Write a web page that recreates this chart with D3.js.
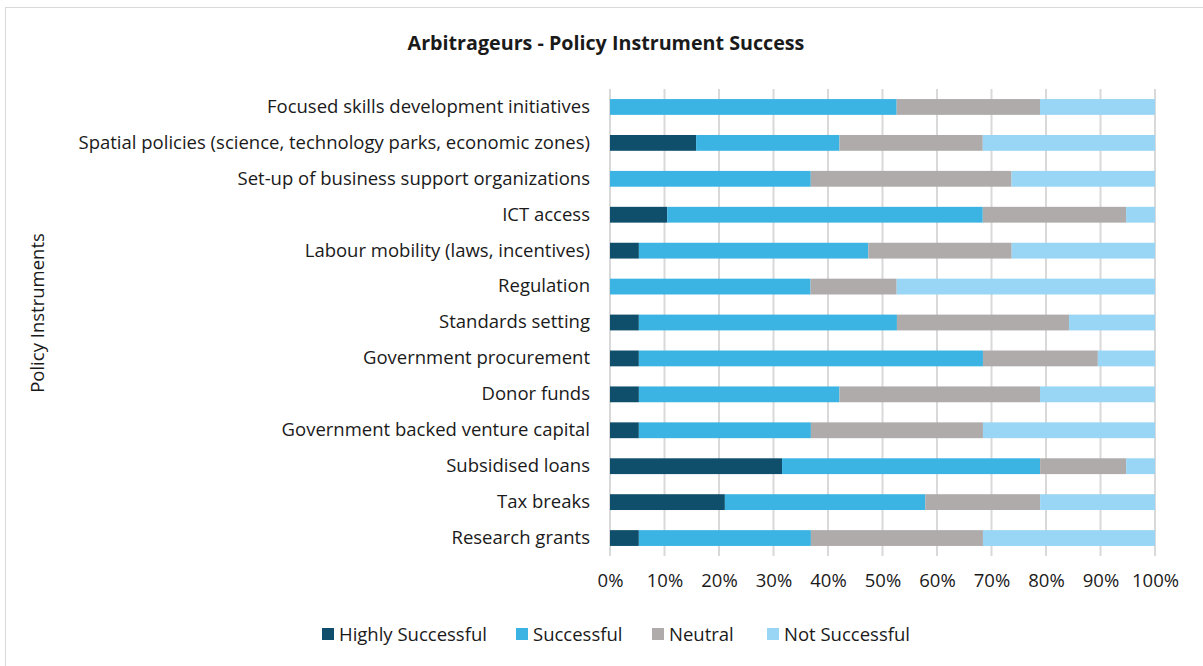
<!DOCTYPE html>
<html>
<head>
<meta charset="utf-8">
<script src="https://cdn.jsdelivr.net/npm/d3@7"></script>
<style>
  body { margin: 0; background: #fff; }
  svg text { font-family: "Open Sans", sans-serif; fill: #1a1a1a; }
</style>
</head>
<body>
<svg id="chart" width="1203" height="666"></svg>
<script>
// categories top to bottom
const instruments = [
  'Focused skills development initiatives',
  'Spatial policies (science, technology parks, economic zones)',
  'Set-up of business support organizations',
  'ICT access',
  'Labour mobility (laws, incentives)',
  'Regulation',
  'Standards setting',
  'Government procurement',
  'Donor funds',
  'Government backed venture capital',
  'Subsidised loans',
  'Tax breaks',
  'Research grants'
]

// share of responses, percent
const highlySuccessful = [0, 15.8, 0, 10.5, 5.3, 0, 5.3, 5.3, 5.3, 5.3, 31.6, 21.1, 5.3]
const successful       = [52.6, 26.3, 36.8, 57.9, 42.1, 36.8, 47.4, 63.2, 36.8, 31.6, 47.4, 36.8, 31.6]
const neutral          = [26.3, 26.3, 36.8, 26.3, 26.3, 15.8, 31.6, 21.1, 36.8, 31.6, 15.8, 21.1, 31.6]
const notSuccessful    = [21.1, 31.6, 26.3, 5.3, 26.3, 47.4, 15.8, 10.5, 21.1, 31.6, 5.3, 21.1, 31.6]

const seriesNames = ['Highly Successful', 'Successful', 'Neutral', 'Not Successful']
const colors = ['#0f4f6b', '#3bb4e4', '#afabab', '#99d5f4']
const ticks = [0, 10, 20, 30, 40, 50, 60, 70, 80, 90, 100]

const fontSize = 18.5

const svg = d3.select('#chart')

// outer frame
svg.append('rect')
  .attr('x', 5.5).attr('y', 7.5)
  .attr('width', 1220).attr('height', 700)
  .attr('fill', 'none').attr('stroke', '#d9d9d9')

const margin = { left: 610, right: 48, top: 89, bottom: 110 }
const width = 1203 - margin.left - margin.right
const height = 666 - margin.top - margin.bottom

const g = svg.append('g')
  .attr('transform', 'translate(' + [margin.left, margin.top] + ')')

const x = d3.scaleLinear().domain([0, 100]).range([0, width])
const y = d3.scaleBand().domain(instruments).range([0, height]).paddingInner(0.56).paddingOuter(0.28)

const rows = instruments.map((name, i) => ({
  name: name,
  'Highly Successful': highlySuccessful[i],
  'Successful': successful[i],
  'Neutral': neutral[i],
  'Not Successful': notSuccessful[i]
}))

const stacked = d3.stack().keys(seriesNames).offset(d3.stackOffsetExpand)(rows)

// gridlines
g.append('g')
  .selectAll('line')
  .data(ticks)
  .join('line')
    .attr('x1', d => x(d)).attr('x2', d => x(d))
    .attr('y1', 0).attr('y2', height)
    .attr('stroke', '#d9d9d9').attr('stroke-width', 2)

g.append('g')
  .selectAll('g')
  .data(stacked)
  .join('g')
    .attr('fill', (d, i) => colors[i])
  .selectAll('rect')
  .data(d => d)
  .join('rect')
    .attr('x', d => x(d[0] * 100))
    .attr('width', d => x(d[1] * 100) - x(d[0] * 100))
    .attr('y', d => y(d.data.name))
    .attr('height', y.bandwidth())

// category labels
const yAxis = g.append('g')
  .call(d3.axisLeft(y).tickSize(0).tickPadding(20))
yAxis.select('.domain').remove()
yAxis.selectAll('text')
  .attr('font-size', fontSize)
  .attr('font-family', '"Open Sans", sans-serif')
  .attr('fill', '#1a1a1a')

// x tick labels
const xAxis = g.append('g')
  .attr('transform', 'translate(0,' + height + ')')
  .call(d3.axisBottom(x).tickValues(ticks).tickFormat(d => d + '%').tickSize(0).tickPadding(18))
xAxis.select('.domain').remove()
xAxis.selectAll('text')
  .attr('font-size', fontSize)
  .attr('font-family', '"Open Sans", sans-serif')
  .attr('fill', '#1a1a1a')

// title
svg.append('text')
  .attr('x', 606).attr('y', 50)
  .attr('text-anchor', 'middle')
  .attr('font-size', 19.7)
  .attr('font-weight', 'bold')
  .text('Arbitrageurs - Policy Instrument Success')

// y axis title
svg.append('text')
  .attr('transform', 'translate(44,313) rotate(-90)')
  .attr('text-anchor', 'middle')
  .attr('font-size', fontSize)
  .text('Policy Instruments')

// legend
const legendX = [322, 516, 652, 767]
const legend = svg.append('g')
  .selectAll('g')
  .data(seriesNames)
  .join('g')
    .attr('transform', (d, i) => 'translate(' + [legendX[i], 628] + ')')
legend.append('rect')
  .attr('width', 12).attr('height', 12)
  .attr('fill', (d, i) => colors[i])
legend.append('text')
  .attr('x', 17).attr('y', 12.5)
  .attr('font-size', fontSize)
  .text(d => d)
</script>
</body>
</html>
